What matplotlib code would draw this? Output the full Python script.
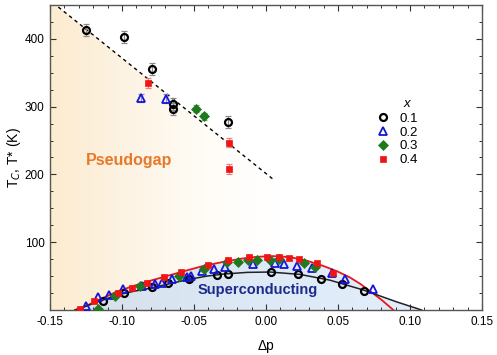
"""Pseudogap / superconducting dome phase diagram."""
import numpy as np
import matplotlib
matplotlib.use("Agg")
import matplotlib.pyplot as plt
from matplotlib.colors import LinearSegmentedColormap
from matplotlib.patches import Polygon
from matplotlib.ticker import MultipleLocator, FormatStrFormatter

plt.rcParams['font.family'] = ['Liberation Sans', 'DejaVu Sans']

# --- T* (pseudogap) points, with error bars ---
ps_x01 = [-0.125, -0.0986, -0.0794, -0.0648, -0.0648, -0.0264]
ps_t01 = [413, 403, 356, 304, 296, 277]
ps_x02 = [-0.0868, -0.0697]
ps_t02 = [313, 312]
ps_x03 = [-0.0486, -0.043]
ps_t03 = [297, 286]
ps_x04 = [-0.082, -0.026, -0.026]
ps_t04 = [335, 247, 208]
ps_err = {"0.1": 9, "0.2": 6, "0.3": 5, "0.4": 7}

# --- Tc points ---
tc_x01 = [-0.113, -0.0986, -0.0794, -0.0683, -0.0532, -0.0343, -0.0266,
          0.0035, 0.0225, 0.038, 0.053, 0.0683]
tc_t01 = [13.8, 24.6, 33.5, 40, 45, 51.7, 53, 55.7, 52.7, 45, 39, 28]
tc_x02 = [-0.125, -0.117, -0.109, -0.0993, -0.0859, -0.0773, -0.0724, -0.0655,
          -0.0551, -0.0523, -0.0444, -0.0361, -0.0283, -0.0088, 0.0065, 0.0127,
          0.0213, 0.0322, 0.0456, 0.0551, 0.0743]
tc_t02 = [6.4, 18.7, 21.7, 30.5, 35.5, 39, 40.3, 45, 49, 50.7, 58, 60, 63, 68,
          69, 67.5, 65.5, 61.6, 55, 45.8, 31]
tc_x03 = [-0.117, -0.105, -0.0875, -0.0602, -0.043, -0.0273, -0.0192, -0.0123,
          -0.0065, 0.0028, 0.0092, 0.0266, 0.034]
tc_t03 = [1, 20, 35.5, 50.7, 60, 70.4, 71.4, 73.9, 73.9, 73.9, 74.8, 69.9, 63]
tc_x04 = [-0.129, -0.1194, -0.1026, -0.0933, -0.0824, -0.0706, -0.059, -0.0401,
          -0.0262, -0.0116, 0.0005, 0.0093, 0.0162, 0.0231, 0.0352, 0.0468]
tc_t04 = [1, 12.8, 25.6, 32.5, 40.3, 48.3, 56.6, 66.5, 73.9, 77.8, 78.8, 77.8,
          76.3, 74.8, 68.9, 55]

# --- guide curves ---
red_x = [-0.1326, -0.1269, -0.116, -0.1037, -0.092, -0.0806, -0.069, -0.0574,
         -0.0435, -0.0296, -0.018, -0.0065, 0.005, 0.0167, 0.028, 0.0398, 0.0495,
         0.0583, 0.0655, 0.0722, 0.0805, 0.0884]
red_t = [0, 4, 15, 27, 35.5, 43, 50, 57, 65, 71, 75.5, 78.5, 79.5, 78, 73, 65,
         57, 48, 38.5, 28, 14.5, 0]
blk_x = [-0.1326, -0.118, -0.1037, -0.092, -0.0806, -0.0665, -0.0528, -0.041,
         -0.0296, -0.013, 0.0028, 0.0236, 0.0444, 0.0676, 0.0907, 0.108]
blk_t = [0, 11, 22, 27.5, 32, 39, 45.5, 50, 53, 55.5, 56, 52.5, 44, 29.5, 12, 0]
dash_x = [-0.1442, 0.0046]
dash_t = [447, 193.5]

series = [
    ("0.1", ps_x01, ps_t01, tc_x01, tc_t01,
     dict(marker="o", mfc="none", mec="black", ms=5, mew=1.6), "#8a8a8a"),
    ("0.2", ps_x02, ps_t02, tc_x02, tc_t02,
     dict(marker="^", mfc="none", mec="#1515d8", ms=5.5, mew=1.3), "#8c8cd8"),
    ("0.3", ps_x03, ps_t03, tc_x03, tc_t03,
     dict(marker="D", mfc="#1f7a1f", mec="#1f7a1f", ms=4.6, mew=0.5), "#6fb06f"),
    ("0.4", ps_x04, ps_t04, tc_x04, tc_t04,
     dict(marker="s", mfc="#f01414", mec="#f01414", ms=5, mew=0.5), "#f08080"),
]

fig = plt.figure(figsize=(4.97, 3.55), dpi=100)
ax = fig.add_axes([0.1006, 0.1268, 0.8692, 0.8591])
ax.set_xlim(-0.15, 0.15)
ax.set_ylim(0, 450)

# pseudogap shading (below the dashed line, fading to white)
slope = (dash_t[1] - dash_t[0]) / (dash_x[1] - dash_x[0])
x_zero = dash_x[0] - dash_t[0] / slope
pg_poly = Polygon([(-0.15, dash_t[0] + slope * (-0.15 - dash_x[0])), (x_zero, 0),
                   (-0.15, 0)], closed=True, facecolor="none", edgecolor="none",
                  transform=ax.transData)
ax.add_patch(pg_poly)
pg_cmap = LinearSegmentedColormap.from_list("pg", ["#fcecd0", "#fdf3e3", "#fffcf7", "#ffffff"])
grad = np.linspace(0, 1, 256).reshape(1, -1)
im = ax.imshow(grad, cmap=pg_cmap, extent=(-0.15, 0.01, 0, 460), aspect="auto",
               zorder=0, interpolation="bilinear")
im.set_clip_path(pg_poly)

# superconducting dome fill
dome = [(x, t) for x, t in zip(red_x, red_t) if x <= 0.066]
dome += [(x, t) for x, t in zip(blk_x, blk_t) if x >= 0.0676]
sc_poly = Polygon(dome, closed=True, facecolor="none", edgecolor="none",
                  transform=ax.transData)
ax.add_patch(sc_poly)
sc_cmap = LinearSegmentedColormap.from_list("sc", ["#d4dfe9", "#dde9f6", "#e3eefb"])
im2 = ax.imshow(grad, cmap=sc_cmap, extent=(-0.135, 0.11, 0, 85), aspect="auto",
                zorder=0.5, interpolation="bilinear")
im2.set_clip_path(sc_poly)

ax.plot(red_x, red_t, color="#e81818", lw=1.3, zorder=2)
ax.plot(blk_x, blk_t, color="#222222", lw=1.1, zorder=2)
ax.plot(dash_x, dash_t, color="black", lw=1.0, ls=(0, (2.5, 2.5)), zorder=2)

for lab, px, pt, cx, ct, st, ecol in series:
    ax.errorbar(px, pt, yerr=ps_err[lab], fmt="none", ecolor=ecol, elinewidth=0.9,
                capsize=2.5, capthick=0.9, zorder=3)
    ax.plot(px, pt, ls="none", zorder=4, **st)
    ax.plot(cx, ct, ls="none", zorder=4, label=lab, **st)

ax.text(-0.0951, 221, "Pseudogap", color="#e8792a", fontsize=11.5,
        fontweight="bold", ha="center", va="center")
ax.text(-0.0058, 29, "Superconducting", color="#1c2a8a", fontsize=10.5,
        fontweight="bold", ha="center", va="center")

ax.legend(loc="upper left", bbox_to_anchor=(0.735, 0.678), frameon=False,
          fontsize=9.5, labelspacing=0.12, handlelength=1.0, handletextpad=0.7,
          borderpad=0.2)
ax.text(0.098, 304, "x", fontsize=9.5, fontstyle="italic", ha="center", va="center")

ax.xaxis.set_major_locator(MultipleLocator(0.05))
ax.xaxis.set_minor_locator(MultipleLocator(0.01))
ax.xaxis.set_major_formatter(FormatStrFormatter("%.2f"))
ax.set_yticks([100, 200, 300, 400])
ax.yaxis.set_minor_locator(MultipleLocator(25))
ax.tick_params(which="both", direction="in", top=True, right=True,
               labelsize=8.5, colors="#333333", labelcolor="black", pad=4)
ax.tick_params(which="major", length=4, width=0.8)
ax.tick_params(which="minor", length=2.5, width=0.7)
for sp in ax.spines.values():
    sp.set_color("#555555")
    sp.set_linewidth(1.0)

ax.set_xlabel("Δp", fontsize=10, labelpad=8)
ax.set_ylabel("T$_C$, T* (K)", fontsize=10, labelpad=1)

fig.savefig("out.png", dpi=100)
